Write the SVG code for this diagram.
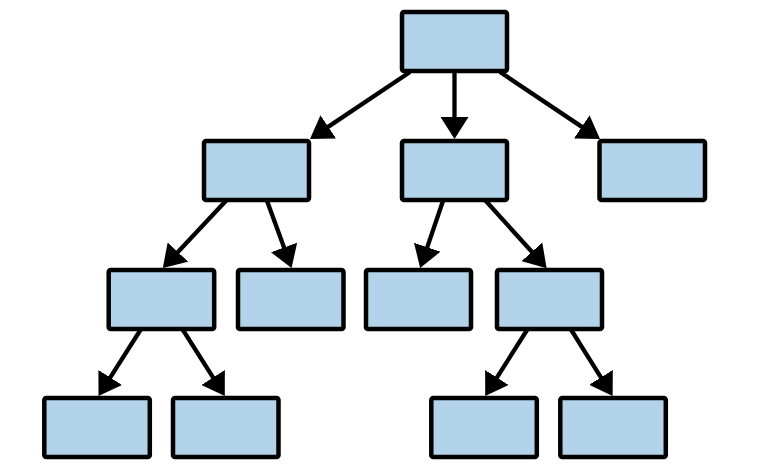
<svg xmlns="http://www.w3.org/2000/svg" width="760" height="466" viewBox="0 0 760 466">
<style>
.node rect{fill:#b2d3e9;stroke:#000;stroke-width:4.5;stroke-linejoin:round}
.edge{stroke:#000;stroke-width:4.3;fill:none}
</style>
<defs>
<marker id="ah" viewBox="0 0 22 28" refX="2" refY="14" markerWidth="22" markerHeight="28" markerUnits="userSpaceOnUse" orient="auto">
<path d="M0,0 L22,14 L0,28 z" fill="#000"/>
</marker>
</defs>
<rect width="760" height="466" fill="#fff"/>
<g id="connectors">
<line class="edge" x1="410" y1="72" x2="326.6" y2="127.9" marker-end="url(#ah)"/>
<line class="edge" x1="454.5" y1="72" x2="454.5" y2="119" marker-end="url(#ah)"/>
<line class="edge" x1="500" y1="72" x2="583.4" y2="127.9" marker-end="url(#ah)"/>
<line class="edge" x1="226.7" y1="200" x2="176.5" y2="253.5" marker-end="url(#ah)"/>
<line class="edge" x1="266.7" y1="200" x2="284.7" y2="249.3" marker-end="url(#ah)"/>
<line class="edge" x1="443.3" y1="200" x2="426.6" y2="249.1" marker-end="url(#ah)"/>
<line class="edge" x1="485" y1="200" x2="533.2" y2="253.3" marker-end="url(#ah)"/>
<line class="edge" x1="141.7" y1="328" x2="109.2" y2="379.2" marker-end="url(#ah)"/>
<line class="edge" x1="181.7" y1="328" x2="214.1" y2="379.2" marker-end="url(#ah)"/>
<line class="edge" x1="528.3" y1="328" x2="495.9" y2="379.2" marker-end="url(#ah)"/>
<line class="edge" x1="570" y1="328" x2="602" y2="379.1" marker-end="url(#ah)"/>
</g>
<g id="root" class="node"><rect x="402" y="12" width="105" height="59" rx="2"/></g>
<g id="a" class="node"><rect x="204" y="141" width="105" height="59" rx="2"/></g>
<g id="b" class="node"><rect x="402" y="141" width="105" height="59" rx="2"/></g>
<g id="c" class="node"><rect x="599.5" y="141" width="105.5" height="59" rx="2"/></g>
<g id="d" class="node"><rect x="108.7" y="270" width="105.5" height="59" rx="2"/></g>
<g id="e" class="node"><rect x="238" y="270" width="105.5" height="59" rx="2"/></g>
<g id="f" class="node"><rect x="366" y="270" width="105" height="59" rx="2"/></g>
<g id="g" class="node"><rect x="497" y="270" width="105" height="59" rx="2"/></g>
<g id="h" class="node"><rect x="44.3" y="398" width="105.5" height="59" rx="2"/></g>
<g id="i" class="node"><rect x="173" y="398" width="105.5" height="59" rx="2"/></g>
<g id="j" class="node"><rect x="431.3" y="398" width="105.5" height="59" rx="2"/></g>
<g id="k" class="node"><rect x="560.3" y="398" width="105.5" height="59" rx="2"/></g>
</svg>
